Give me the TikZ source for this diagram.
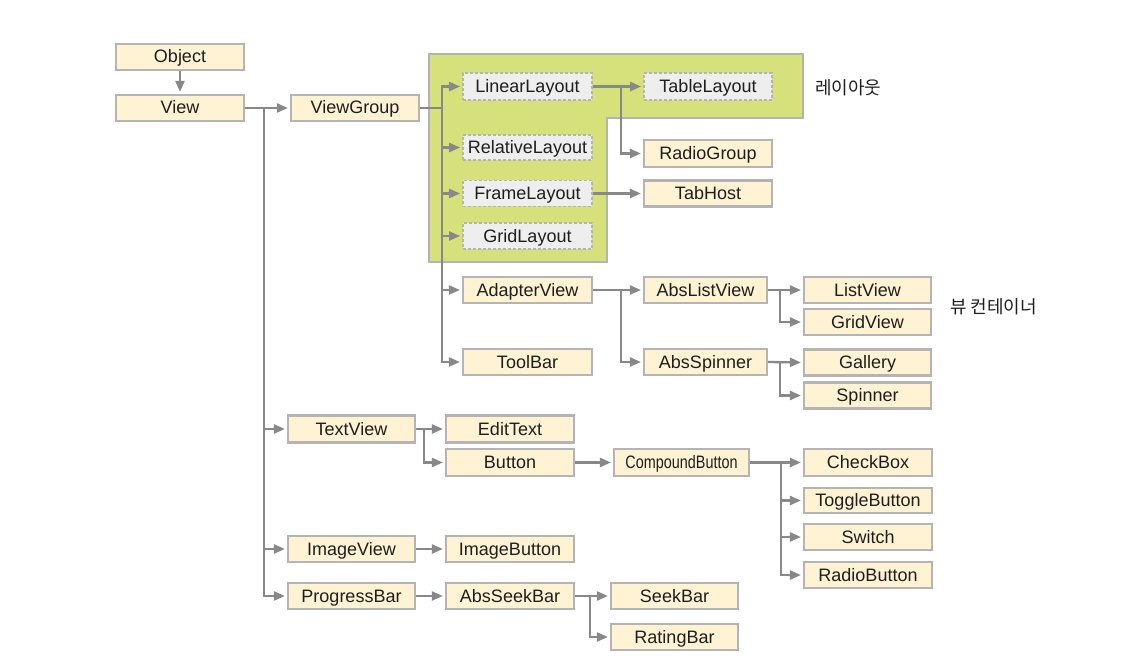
\documentclass[tikz,border=0pt]{standalone}
\usepackage{fontspec}
\setmainfont{Liberation Sans}
\newfontfamily\kor{Noto Sans CJK KR}
\usetikzlibrary{arrows.meta}
\definecolor{boxfill}{HTML}{FFF3D4}
\definecolor{boxline}{HTML}{B4B4B4}
\definecolor{dashfill}{HTML}{EEEEEE}
\definecolor{greenfill}{HTML}{D6E17B}
\definecolor{conncol}{HTML}{888888}
\definecolor{txt}{HTML}{1E1E1E}
\tikzset{
  cls/.style={draw=boxline, line width=2.2pt, fill=boxfill, minimum width=128pt, minimum height=26pt, inner sep=0pt, text height=14pt, text depth=2pt, text=txt, font=\fontsize{18}{21}\selectfont},
  lay/.style={cls, fill=dashfill, dash pattern=on 3pt off 2pt, line width=1.8pt},
  link/.style={draw=conncol, line width=2.3pt},
  arr/.style={link, -{Triangle[length=11pt,width=9pt]}, shorten >=2pt},
  note/.style={text=txt, font=\kor\fontsize{18}{21}\selectfont, inner sep=0pt}
}
\begin{document}
\begin{tikzpicture}[x=1pt,y=-1pt]
\useasboundingbox[fill=white] (0,0) rectangle (1147,660);
% green layout region
\draw[draw=boxline, line width=2.2pt, fill=greenfill] (429,54) -- (803,54) -- (803,118) -- (607,118) -- (607,262) -- (429,262) -- cycle;

% nodes
\node[cls] (Object) at (180,57) {Object};
\node[cls] (View) at (180,108) {View};
\node[cls] (ViewGroup) at (355,108) {ViewGroup};

\node[lay, minimum height=27pt, minimum width=129pt] (LinearLayout) at (527.5,86.5) {LinearLayout};
\node[lay, minimum height=27pt] (TableLayout) at (708,86.5) {TableLayout};
\node[lay, minimum height=25pt, minimum width=129pt] (RelativeLayout) at (527.5,147.5) {RelativeLayout};
\node[lay, minimum width=129pt] (FrameLayout) at (527.5,193.5) {FrameLayout};
\node[lay, minimum width=129pt] (GridLayout) at (527.5,236) {GridLayout};
\node[cls, minimum height=27pt] (RadioGroup) at (708,153.5) {RadioGroup};
\node[cls] (TabHost) at (708,193.5) {TabHost};

\node[cls, minimum width=129pt] (AdapterView) at (527.5,290) {AdapterView};
\node[cls, minimum width=129pt] (ToolBar) at (527.5,362) {ToolBar};
\node[cls, minimum width=123pt] (AbsListView) at (705.5,290) {AbsListView};
\node[cls, minimum width=123pt] (AbsSpinner) at (705.5,362) {AbsSpinner};
\node[cls, minimum width=127pt] (ListView) at (867.5,290) {ListView};
\node[cls, minimum width=127pt] (GridView) at (867.5,322) {GridView};
\node[cls, minimum width=127pt] (Gallery) at (867.5,362.5) {Gallery};
\node[cls, minimum width=127pt] (Spinner) at (867.5,395.5) {Spinner};

\node[cls, minimum width=127pt, minimum height=27pt] (TextView) at (351.5,429) {TextView};
\node[cls, minimum height=27pt] (EditText) at (510,429) {EditText};
\node[cls, minimum height=27pt] (Button) at (510,462.5) {Button};
\node[cls, minimum width=135pt, minimum height=27pt] (CompoundButton) at (681.5,462.5) {\scalebox{0.8}[1]{CompoundButton}};
\node[cls, minimum height=27pt] (CheckBox) at (868,462.5) {CheckBox};
\node[cls, minimum height=25pt] (ToggleButton) at (868,500.5) {ToggleButton};
\node[cls] (Switch) at (868,537) {Switch};
\node[cls] (RadioButton) at (868,575) {RadioButton};
\node[cls, minimum width=127pt] (ImageView) at (351.5,549) {ImageView};
\node[cls] (ImageButton) at (510,549) {ImageButton};
\node[cls, minimum width=127pt] (ProgressBar) at (351.5,596) {ProgressBar};
\node[cls] (AbsSeekBar) at (510,596) {AbsSeekBar};
\node[cls, minimum width=127pt] (SeekBar) at (674.5,596) {SeekBar};
\node[cls, minimum width=127pt] (RatingBar) at (674.5,637) {RatingBar};

\node[note, anchor=west] (layoutlbl) at (815,88) {레이아웃};
\node[note, anchor=west] (containerlbl) at (950,307) {뷰 컨테이너};

% junction coordinates
\coordinate (vt) at (264,108);
\coordinate (gt) at (442,108);
\coordinate (lt) at (621,86.5);
\coordinate (at) at (621,290);
\coordinate (alt) at (780,290);
\coordinate (ast) at (780,362);
\coordinate (tt) at (424,429);
\coordinate (ct) at (781,462.5);
\coordinate (sbt) at (590,596);

% connectors
\draw[arr] (Object.south) -- (View.north);
\draw[arr] (View.east) -- (ViewGroup.west);
\draw[arr] (vt) |- (TextView.west);
\draw[arr] (vt) |- (ImageView.west);
\draw[arr] (vt) |- (ProgressBar.west);

\draw[link] (ViewGroup.east) -- (gt);
\draw[arr] (gt) |- (LinearLayout.west);
\draw[arr] (gt) |- (RelativeLayout.west);
\draw[arr] (gt) |- (FrameLayout.west);
\draw[arr] (gt) |- (GridLayout.west);
\draw[arr] (gt) |- (AdapterView.west);
\draw[arr] (gt) |- (ToolBar.west);

\draw[arr] (LinearLayout.east) -- (TableLayout.west);
\draw[arr] (lt) |- (RadioGroup.west);
\draw[arr] (FrameLayout.east) -- (TabHost.west);

\draw[arr] (AdapterView.east) -- (AbsListView.west);
\draw[arr] (at) |- (AbsSpinner.west);
\draw[arr] (AbsListView.east) -- (ListView.west);
\draw[arr] (alt) |- (GridView.west);
\draw[arr] (AbsSpinner.east) -- (Gallery.west);
\draw[arr] (ast) |- (Spinner.west);

\draw[arr] (TextView.east) -- (EditText.west);
\draw[arr] (tt) |- (Button.west);
\draw[arr] (Button.east) -- (CompoundButton.west);
\draw[arr] (CompoundButton.east) -- (CheckBox.west);
\draw[arr] (ct) |- (ToggleButton.west);
\draw[arr] (ct) |- (Switch.west);
\draw[arr] (ct) |- (RadioButton.west);

\draw[arr] (ImageView.east) -- (ImageButton.west);
\draw[arr] (ProgressBar.east) -- (AbsSeekBar.west);
\draw[arr] (AbsSeekBar.east) -- (SeekBar.west);
\draw[arr] (sbt) |- (RatingBar.west);
\end{tikzpicture}
\end{document}
